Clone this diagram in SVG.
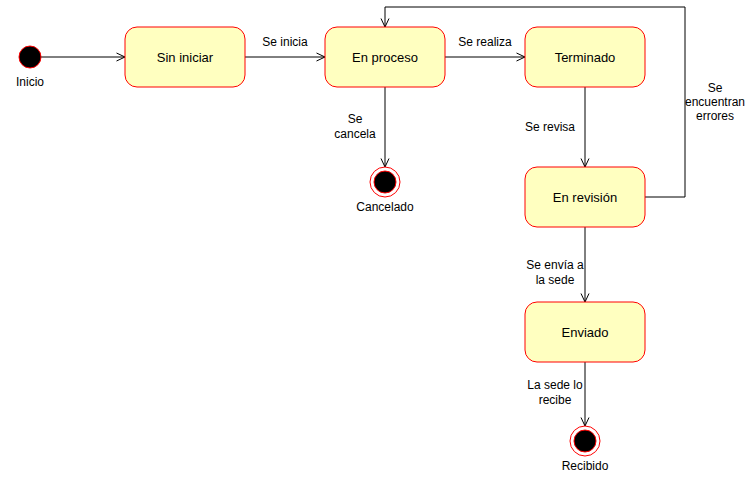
<svg xmlns="http://www.w3.org/2000/svg" width="746" height="483" viewBox="0 0 746 483">
<defs>
<marker id="arr" viewBox="0 0 10 10" refX="9.5" refY="5" markerWidth="10" markerHeight="10" markerUnits="userSpaceOnUse" orient="auto">
<polyline points="1,1 9.5,5 1,9" fill="none" stroke="#000" stroke-width="1"/>
</marker>
</defs>
<style>
.st{fill:#FFFFC0;stroke:#FF0000;stroke-width:1}
.lbl{font-family:"Liberation Sans",Arial,sans-serif;font-size:13px;fill:#000;text-anchor:middle;dominant-baseline:central}
.el{font-family:"Liberation Sans",Arial,sans-serif;font-size:12px;fill:#000;text-anchor:middle;dominant-baseline:central}
.ln{fill:none;stroke:#000;stroke-width:1;marker-end:url(#arr)}
</style>
<rect width="746" height="483" fill="#fff"/>
<g id="connectors">
<line class="ln" x1="41" y1="57" x2="125" y2="57"/>
<line class="ln" x1="245" y1="57" x2="325" y2="57"/>
<line class="ln" x1="445" y1="57" x2="525" y2="57"/>
<line class="ln" x1="385" y1="87" x2="385" y2="167"/>
<line class="ln" x1="585" y1="87" x2="585" y2="167"/>
<polyline class="ln" points="645,197 685,197 685,7 385,7 385,27"/>
<line class="ln" x1="585" y1="227" x2="585" y2="302"/>
<line class="ln" x1="585" y1="362" x2="585" y2="426"/>
<text class="el" x="285" y="42">Se inicia</text>
<text class="el" x="485" y="42">Se realiza</text>
<text class="el" x="355" y="119">Se</text>
<text class="el" x="355" y="134">cancela</text>
<text class="el" x="550" y="127">Se revisa</text>
<text class="el" x="715" y="88">Se</text>
<text class="el" x="715" y="102">encuentran</text>
<text class="el" x="715" y="116">errores</text>
<text class="el" x="555" y="265">Se envía a</text>
<text class="el" x="555" y="280">la sede</text>
<text class="el" x="555" y="385">La sede lo</text>
<text class="el" x="555" y="400">recibe</text>
</g>
<g id="inicio">
<circle cx="30" cy="57" r="11" fill="#000" stroke="#FF0000" stroke-width="1"/>
<text class="el" x="30" y="82">Inicio</text>
</g>
<g id="sin-iniciar">
<rect class="st" x="125" y="27" width="120" height="60" rx="12" ry="12"/>
<text class="lbl" x="185" y="57">Sin iniciar</text>
</g>
<g id="en-proceso">
<rect class="st" x="325" y="27" width="120" height="60" rx="12" ry="12"/>
<text class="lbl" x="385" y="57">En proceso</text>
</g>
<g id="terminado">
<rect class="st" x="525" y="27" width="120" height="60" rx="12" ry="12"/>
<text class="lbl" x="585" y="57">Terminado</text>
</g>
<g id="en-revision">
<rect class="st" x="525" y="167" width="120" height="60" rx="12" ry="12"/>
<text class="lbl" x="585" y="197">En revisión</text>
</g>
<g id="enviado">
<rect class="st" x="525" y="302" width="120" height="60" rx="12" ry="12"/>
<text class="lbl" x="585" y="332">Enviado</text>
</g>
<g id="cancelado">
<circle cx="385" cy="182" r="15" fill="#fff" stroke="#FF0000" stroke-width="1"/>
<circle cx="385" cy="182" r="11" fill="#000" stroke="#FF0000" stroke-width="1"/>
<text class="el" x="385" y="207">Cancelado</text>
</g>
<g id="recibido">
<circle cx="585" cy="441" r="15" fill="#fff" stroke="#FF0000" stroke-width="1"/>
<circle cx="585" cy="441" r="11" fill="#000" stroke="#FF0000" stroke-width="1"/>
<text class="el" x="585" y="466">Recibido</text>
</g>
</svg>
